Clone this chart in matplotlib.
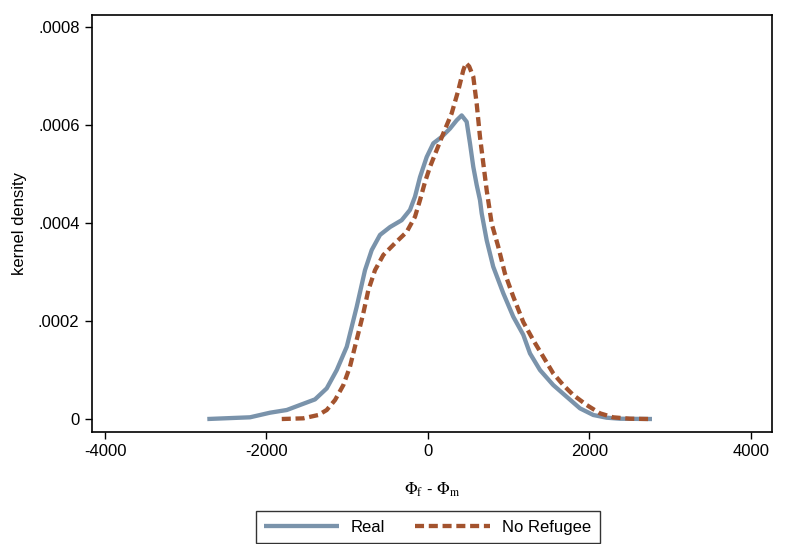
import matplotlib
matplotlib.use("Agg")
import matplotlib.pyplot as plt

# density curves (y in units of 1e-4)
real_x = [-2733, -2204, -1956, -1749, -1585, -1399, -1254, -1130, -1006, -883,
          -780, -697, -594, -470, -326, -223, -161, -99, -16, 66,
          169, 272, 355, 417, 479, 520, 561, 603, 644, 665,
          727, 808, 932, 1056, 1180, 1263, 1387, 1551, 1717, 1882,
          2047, 2212, 2377, 2774]
real_y = [0, 0.035, 0.129, 0.184, 0.286, 0.401, 0.626, 1.0, 1.476, 2.29,
          3.04, 3.45, 3.76, 3.92, 4.06, 4.27, 4.54, 4.94, 5.35, 5.63,
          5.76, 5.93, 6.10, 6.20, 6.07, 5.63, 5.15, 4.78, 4.47, 4.20,
          3.65, 3.11, 2.57, 2.09, 1.72, 1.34, 1.0, 0.694, 0.455, 0.218,
          0.082, 0.027, 0.006, 0]

noref_x = [-1811, -1544, -1358, -1254, -1151, -1048, -966, -904, -863, -801,
           -739, -656, -553, -409, -264, -161, -99, -37, 25, 107,
           189, 293, 375, 437, 470, 510, 561, 603, 644, 685,
           727, 789, 870, 953, 1056, 1180, 1304, 1428, 1551, 1675,
           1799, 1965, 2130, 2295, 2501, 2749]
noref_y = [0, 0.014, 0.082, 0.184, 0.388, 0.694, 1.07, 1.48, 1.75, 2.16,
           2.63, 3.04, 3.35, 3.59, 3.82, 4.13, 4.47, 4.84, 5.15, 5.49,
           5.83, 6.24, 6.71, 7.12, 7.27, 7.20, 6.99, 6.44, 5.76, 5.22,
           4.67, 3.99, 3.52, 2.97, 2.50, 1.98, 1.61, 1.27, 0.932, 0.694,
           0.49, 0.286, 0.116, 0.034, 0.006, 0]

x_ticks = [-4000, -2000, 0, 2000, 4000]
y_ticks = [0, 0.0002, 0.0004, 0.0006, 0.0008]
y_labels = ["0", ".0002", ".0004", ".0006", ".0008"]

plt.rcParams["font.family"] = ["Liberation Sans", "DejaVu Sans"]
plt.rcParams["mathtext.fontset"] = "stix"

fig = plt.figure(figsize=(7.85, 5.44), dpi=100)
ax = fig.add_axes([0.1172, 0.2059, 0.8662, 0.7665])

blue = "#7a93ab"
brown = "#a3532e"
ax.plot(real_x, [v * 1e-4 for v in real_y], color=blue, lw=3.1,
        label="Real", solid_capstyle="butt", solid_joinstyle="round")
ax.plot(noref_x, [v * 1e-4 for v in noref_y], color=brown, lw=3.1,
        dashes=(2.1, 1.1), dash_joinstyle="round", label="No Refugee")

ax.set_xlim(-4161, 4260)
ax.set_ylim(-0.0000265, 0.000825)
ax.set_xticks(x_ticks)
ax.set_xticklabels([str(t) for t in x_ticks])
ax.set_yticks(y_ticks)
ax.set_yticklabels(y_labels)
ax.tick_params(direction="out", length=5, width=1, labelsize=12, pad=4)
for s in ax.spines.values():
    s.set_linewidth(1.2)

ax.set_ylabel("kernel density", fontsize=12, labelpad=8)
ax.set_xlabel(r"$\Phi_{\mathrm{f}}$ - $\Phi_{\mathrm{m}}$", fontsize=12, labelpad=15)

leg = fig.legend(loc="lower center", bbox_to_anchor=(0.545, 0.002), ncol=2,
                 fontsize=12, frameon=True, fancybox=False, edgecolor="black",
                 handlelength=4.5, handletextpad=0.7, columnspacing=1.8,
                 borderpad=0.5, borderaxespad=0)
leg.get_frame().set_linewidth(1.0)

fig.savefig("out.png", dpi=100)
